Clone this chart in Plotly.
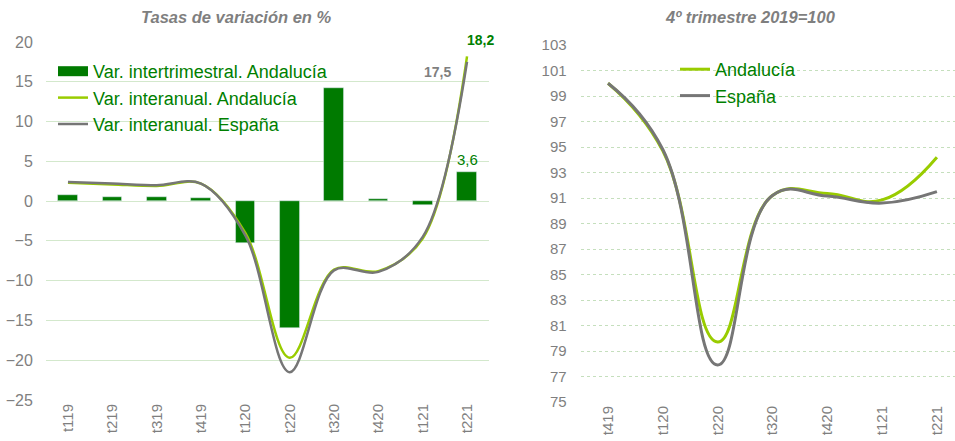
import plotly.graph_objects as go

# ---- data ----
cats_left = ["t119", "t219", "t319", "t419", "t120", "t220", "t320", "t420", "t121", "t221"]
qoq_and = [0.8, 0.5, 0.5, 0.4, -5.3, -15.9, 14.2, 0.3, -0.5, 3.6]
yoy_and = [2.3, 2.1, 1.9, 2.2, -4.0, -19.7, -8.6, -8.8, -4.7, 18.2]
yoy_esp = [2.4, 2.2, 2.0, 2.2, -4.3, -21.5, -8.7, -8.9, -4.5, 17.5]

cats_right = ["t419", "t120", "t220", "t320", "t420", "t121", "t221"]
idx_and = [100, 94.7, 79.7, 91.2, 91.35, 90.85, 94.2]
idx_esp = [100, 94.8, 77.9, 91.2, 91.15, 90.6, 91.5]

left_ticks = list(range(-25, 21, 5))
right_ticks = list(range(75, 104, 2))

# ---- styles ----
DARK_GREEN = "#007A00"
LIGHT_GREEN = "#99CC00"
GREY = "#767676"
GRID = "#d3e8cc"
TXT = "#7f7f7f"
FONT = "Liberation Sans, Arial, sans-serif"

fig = go.Figure()

fig.add_trace(go.Bar(x=cats_left, y=qoq_and, name="Var. intertrimestral. Andalucía",
                     marker=dict(color=DARK_GREEN), width=0.44, showlegend=False,
                     xaxis="x", yaxis="y"))
# legend swatch (wide rectangle) for the bar series
fig.add_trace(go.Scatter(x=[None], y=[None], name="Var. intertrimestral. Andalucía",
                         mode="lines", line=dict(color=DARK_GREEN, width=10),
                         legendgroup="a", xaxis="x", yaxis="y", legend="legend"))
fig.add_trace(go.Scatter(x=cats_left, y=yoy_and, name="Var. interanual. Andalucía",
                         mode="lines", line=dict(color=LIGHT_GREEN, width=2.5, shape="spline", smoothing=1.0),
                         legendgroup="b", xaxis="x", yaxis="y", legend="legend"))
fig.add_trace(go.Scatter(x=cats_left, y=yoy_esp, name="Var. interanual. España",
                         mode="lines", line=dict(color=GREY, width=2.5, shape="spline", smoothing=1.0),
                         legendgroup="c", xaxis="x", yaxis="y", legend="legend"))

fig.add_trace(go.Scatter(x=cats_right, y=idx_and, name="Andalucía",
                         mode="lines", line=dict(color=LIGHT_GREEN, width=3, shape="spline", smoothing=1.25),
                         legendgroup="d", xaxis="x2", yaxis="y2", legend="legend2"))
fig.add_trace(go.Scatter(x=cats_right, y=idx_esp, name="España",
                         mode="lines", line=dict(color=GREY, width=3, shape="spline", smoothing=1.25),
                         legendgroup="e", xaxis="x2", yaxis="y2", legend="legend2"))

W, H = 955, 441

axis_common = dict(showline=False, zeroline=False, ticks="", fixedrange=True, automargin=False)

fig.update_layout(
    width=W, height=H,
    margin=dict(l=0, r=0, t=0, b=0, autoexpand=False),
    paper_bgcolor="white", plot_bgcolor="white",
    font=dict(family=FONT, color=TXT),
    bargap=0,
    xaxis=dict(domain=[45.8 / W, 489.2 / W], anchor="y", type="category",
               range=[-0.5, 9.5], showgrid=False, tickangle=-90,
               tickfont=dict(size=15, color=TXT), **axis_common),
    yaxis=dict(domain=[1 - 400 / H, 1 - 42 / H], anchor="x", range=[-25, 20],
               tickvals=left_ticks, showgrid=True, gridcolor=GRID, gridwidth=1,
               tickfont=dict(size=16, color=TXT), ticklabelstandoff=12, **axis_common),
    xaxis2=dict(domain=[580.6 / W, 1.0], anchor="y2", type="category",
                range=[-0.5, 6.33], showgrid=False, tickangle=-90,
                tickfont=dict(size=15, color=TXT), **axis_common),
    yaxis2=dict(domain=[1 - 402 / H, 1 - 45 / H], anchor="x2", range=[75, 103],
                tickvals=right_ticks, showgrid=True, gridcolor="#c5dfbd", gridwidth=1,
                griddash="dot",
                tickfont=dict(size=15, color=TXT), ticklabelstandoff=13, **axis_common),
    legend=dict(x=53 / W, y=1 - 53 / H, xanchor="left", yanchor="top",
                bgcolor="rgba(0,0,0,0)", font=dict(size=18, color="#008000"),
                tracegroupgap=2, itemwidth=30, traceorder="normal"),
    legend2=dict(x=675 / W, y=1 - 51 / H, xanchor="left", yanchor="top",
                 bgcolor="rgba(0,0,0,0)", font=dict(size=18, color="#008000"),
                 tracegroupgap=7, itemwidth=30, traceorder="normal"),
    showlegend=True,
    annotations=[
        dict(text="<b><i>Tasas de variación en %</i></b>", x=236 / W, y=1 - 17 / H,
             xref="paper", yref="paper", xanchor="center", yanchor="middle", showarrow=False,
             font=dict(size=16.5, color=TXT)),
        dict(text="<b><i>4º trimestre 2019=100</i></b>", x=750 / W, y=1 - 17 / H,
             xref="paper", yref="paper", xanchor="center", yanchor="middle", showarrow=False,
             font=dict(size=16.5, color=TXT)),
        dict(text="<b>18,2</b>", x="t221", y=yoy_and[-1], xref="x", yref="y",
             xanchor="center", yanchor="middle",
             xshift=13, yshift=16, showarrow=False, font=dict(size=14, color="#008000")),
        dict(text="<b>17,5</b>", x="t221", y=yoy_esp[-1], xref="x", yref="y",
             xanchor="center", yanchor="middle",
             xshift=-30, yshift=-10, showarrow=False, font=dict(size=14, color=TXT)),
        dict(text="3,6", x="t221", y=qoq_and[-1], xref="x", yref="y",
             xanchor="center", yanchor="middle",
             xshift=0, yshift=13, showarrow=False, font=dict(size=15, color="#008000")),
    ],
)

fig.write_html("out.html", config={"displayModeBar": False},
               post_script="document.body.style.margin='0';")
